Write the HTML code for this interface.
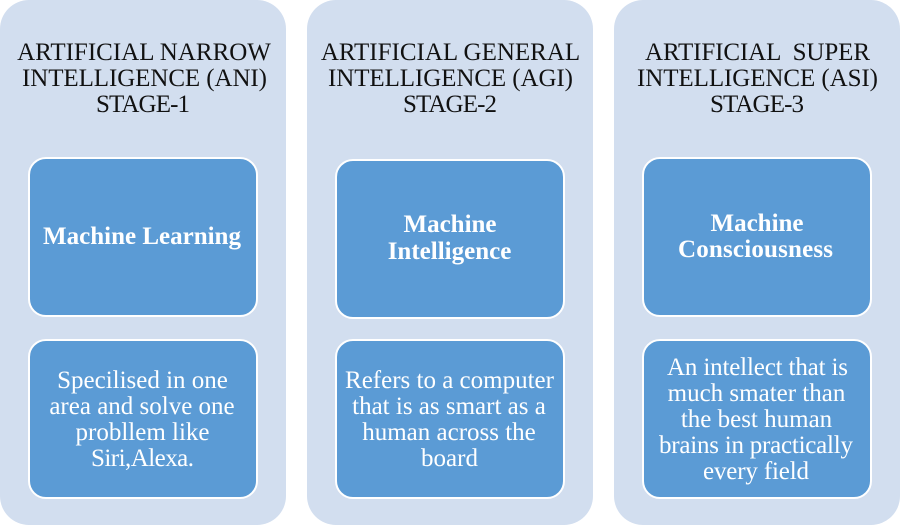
<!DOCTYPE html>
<html><head><meta charset="utf-8"><style>
html,body{margin:0;padding:0;background:#fff;width:900px;height:525px;overflow:hidden}
svg{display:block}
text{font-family:"Liberation Serif",serif;font-size:25px;text-anchor:middle}
.t{fill:#111}
.w{fill:#fff}
.b{fill:#fff;font-weight:bold}
.p{fill:#d2deef}
.i{fill:#5b9bd5;stroke:#fff;stroke-width:2}
</style></head><body>
<svg width="900" height="525" viewBox="0 0 900 525" xmlns="http://www.w3.org/2000/svg">
<rect class="p" x="0" y="0" width="286" height="525" rx="29"/>
<rect class="p" x="307" y="0" width="286" height="525" rx="29"/>
<rect class="p" x="614" y="0" width="286" height="525" rx="29"/>
<rect class="i" x="29" y="158" width="228" height="158" rx="17"/>
<rect class="i" x="29" y="340" width="228" height="158" rx="17"/>
<rect class="i" x="336" y="160" width="228" height="158" rx="17"/>
<rect class="i" x="336" y="340" width="228" height="158" rx="17"/>
<rect class="i" x="643" y="158" width="228" height="158" rx="17"/>
<rect class="i" x="643" y="340" width="228" height="158" rx="17"/>
<text class="t" x="144" y="60">ARTIFICIAL NARROW</text>
<text class="t" x="144.500" y="86" textLength="245">INTELLIGENCE (ANI)</text>
<text class="t" x="143" y="112" textLength="94">STAGE-1</text>
<text class="t" x="450.500" y="60">ARTIFICIAL GENERAL</text>
<text class="t" x="450.500" y="86" textLength="245">INTELLIGENCE (AGI)</text>
<text class="t" x="450" y="112" textLength="94">STAGE-2</text>
<text class="t" x="757.500" y="60" xml:space="preserve" textLength="225">ARTIFICIAL  SUPER</text>
<text class="t" x="757.500" y="86" textLength="241">INTELLIGENCE (ASI)</text>
<text class="t" x="757" y="112" textLength="94">STAGE-3</text>
<text class="b" x="142" y="244">Machine Learning</text>
<text class="b" x="450" y="232">Machine</text>
<text class="b" x="449.500" y="259">Intelligence</text>
<text class="b" x="757" y="231">Machine</text>
<text class="b" x="755.500" y="257" textLength="155">Consciousness</text>
<text class="w" x="142.500" y="388">Specilised in one</text>
<text class="w" x="142" y="414">area and solve one</text>
<text class="w" x="142.500" y="440">probllem like</text>
<text class="w" x="142.500" y="466" textLength="103">Siri,Alexa.</text>
<text class="w" x="449.500" y="388">Refers to a computer</text>
<text class="w" x="449" y="414">that is as smart as a</text>
<text class="w" x="449" y="440">human across the</text>
<text class="w" x="449.500" y="466">board</text>
<text class="w" x="757.500" y="375" textLength="181">An intellect that is</text>
<text class="w" x="756.500" y="401">much smater than</text>
<text class="w" x="756.500" y="427">the best human</text>
<text class="w" x="756" y="453" textLength="194">brains in practically</text>
<text class="w" x="756" y="479" textLength="106">every field</text>
</svg>
</body></html>
